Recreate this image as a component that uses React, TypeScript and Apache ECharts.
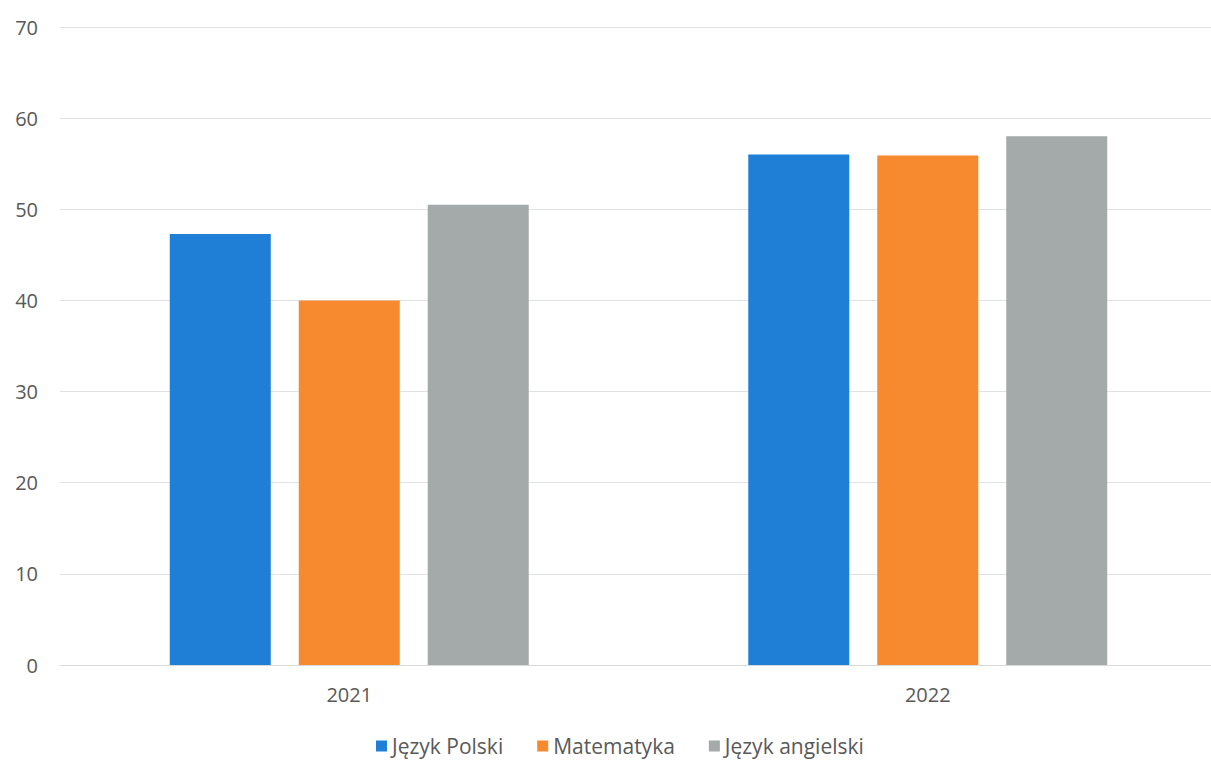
import React, { useEffect, useRef } from "react";
import * as echarts from "echarts";

const categories = ["2021", "2022"];
const seriesNames = ["Język Polski", "Matematyka", "Język angielski"];
const polski = [47.3, 56.0];
const matematyka = [40.0, 55.9];
const angielski = [50.5, 58.0];
const yTicks = { min: 0, max: 70, interval: 10 };

const colors = ["#1f7fd6", "#f7892f", "#a4a9a9"];

export default function App() {
  const ref = useRef<HTMLDivElement>(null);
  useEffect(() => {
    if (!ref.current) return;
    const chart = echarts.init(ref.current, null, { renderer: "svg" });
    const values = [polski, matematyka, angielski];
    chart.setOption({
      animation: false,
      backgroundColor: "#ffffff",
      textStyle: { fontFamily: "Open Sans", color: "#595959" },
      grid: { left: 60, width: 1157, top: 27, bottom: 95, containLabel: false },
      legend: {
        data: seriesNames,
        top: 735,
        left: 376,
        padding: 0,
        icon: "rect",
        itemWidth: 11,
        itemHeight: 11,
        itemGap: 34,
        textStyle: {
          fontSize: 21,
          lineHeight: 22,
          color: "#595959",
          fontFamily: "Open Sans",
        },
      },
      xAxis: {
        type: "category",
        data: categories,
        axisLine: { show: true, lineStyle: { color: "#d9d9d9", width: 1 } },
        axisTick: { show: false },
        axisLabel: { fontSize: 20, color: "#595959", margin: 19, fontFamily: "Open Sans" },
      },
      yAxis: {
        type: "value",
        min: yTicks.min,
        max: yTicks.max,
        interval: yTicks.interval,
        axisLine: { show: false },
        axisTick: { show: false },
        axisLabel: { fontSize: 20, color: "#595959", margin: 22, fontFamily: "Open Sans" },
        splitLine: { lineStyle: { color: "#dfe3e6", width: 1 } },
      },
      series: seriesNames.map((name, i) => ({
        name,
        type: "bar",
        data: values[i],
        barWidth: 101,
        barGap: "27.7%",
        itemStyle: { color: colors[i] },
      })),
    });
    return () => chart.dispose();
  }, []);
  return (
    <div
      style={{
        position: "absolute",
        left: 0,
        top: 0,
        width: 1211,
        height: 760,
        overflow: "hidden",
        background: "#ffffff",
      }}
    >
      <div ref={ref} style={{ width: 1230, height: 760 }} />
    </div>
  );
}
